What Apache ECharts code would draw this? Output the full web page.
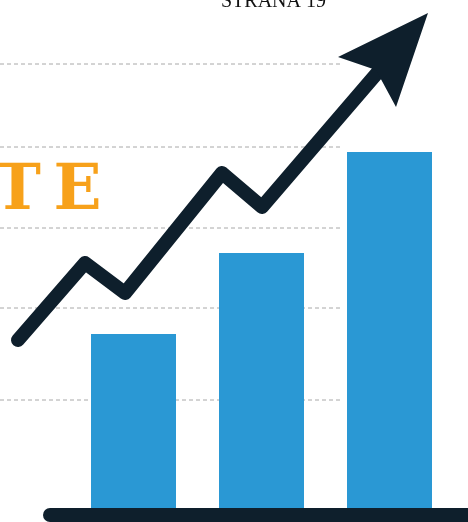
<!DOCTYPE html>
<html><head><meta charset="utf-8">
<script src="https://cdn.jsdelivr.net/npm/echarts@6/dist/echarts.min.js"></script>
<style>html,body{margin:0;padding:0;background:#fff}#c{width:468px;height:522px}</style>
</head><body><div id="c"></div>
<script>
// Data (chart units: height above baseline)
var categories = ['1', '2', '3'];
var barValues = [174, 255, 356];
var gridLevels = [108, 200, 280, 361, 444];
var arrowX = [18, 85, 125, 222, 262, 378];
var arrowY = [168, 245, 215, 335, 301, 436];
var headX = [428, 338, 376, 396];
var headY = [495, 451, 438, 401];
var pageLabel = 'STRANA 19';
var sideLabel = 'T\u2009E';

var C_DARK = '#0e1f2c', C_BAR = '#2a98d4', C_OR = '#f7a11a';
var chart = echarts.init(document.getElementById('c'));
var yAx = {type: 'value', min: -14, max: 508, show: false, splitLine: {show: false}};

var gridSeries = gridLevels.map(function (v, i) {
  return {
    type: 'line', xAxisIndex: 1, yAxisIndex: 1, z: 1, silent: true, symbol: 'none',
    data: [[0, v], [340, v]],
    lineStyle: {color: '#a8a8a8', width: 1, type: [4, 3]}
  };
});

chart.setOption({
  animation: false,
  grid: [
    {left: 69.5, right: 14.5, top: 0, bottom: 0},
    {left: 0, right: 0, top: 0, bottom: 0}
  ],
  xAxis: [
    {type: 'category', data: categories, gridIndex: 0, show: false},
    {type: 'value', min: 0, max: 468, gridIndex: 1, show: false, splitLine: {show: false}}
  ],
  yAxis: [Object.assign({gridIndex: 0}, yAx), Object.assign({gridIndex: 1}, yAx)],
  graphic: [
    {type: 'text', x: 221, y: -8, style: {text: pageLabel, font: '20px "Liberation Serif"', fill: '#111'}},
    {type: 'text', x: -6, y: 161, style: {text: sideLabel, font: 'bold 63px "DejaVu Serif"', fill: C_OR}}
  ],
  series: gridSeries.concat([
    {
      type: 'bar', xAxisIndex: 0, yAxisIndex: 0, z: 3, barWidth: 85,
      data: barValues, itemStyle: {color: C_BAR}
    },
    {
      type: 'line', xAxisIndex: 1, yAxisIndex: 1, z: 5, symbol: 'none',
      data: arrowX.map(function (x, i) { return [x, arrowY[i]]; }),
      lineStyle: {color: C_DARK, width: 14, cap: 'round', join: 'round'}
    },
    {
      type: 'custom', xAxisIndex: 1, yAxisIndex: 1, z: 6,
      data: [0],
      renderItem: function (params, api) {
        var pts = headX.map(function (x, i) { return api.coord([x, headY[i]]); });
        return {type: 'polygon', shape: {points: pts}, style: {fill: C_DARK}};
      }
    },
    {
      type: 'line', xAxisIndex: 1, yAxisIndex: 1, z: 6, symbol: 'none',
      data: [[50, -7], [475, -7]],
      lineStyle: {color: C_DARK, width: 14, cap: 'round'}
    }
  ])
});
</script></body></html>
